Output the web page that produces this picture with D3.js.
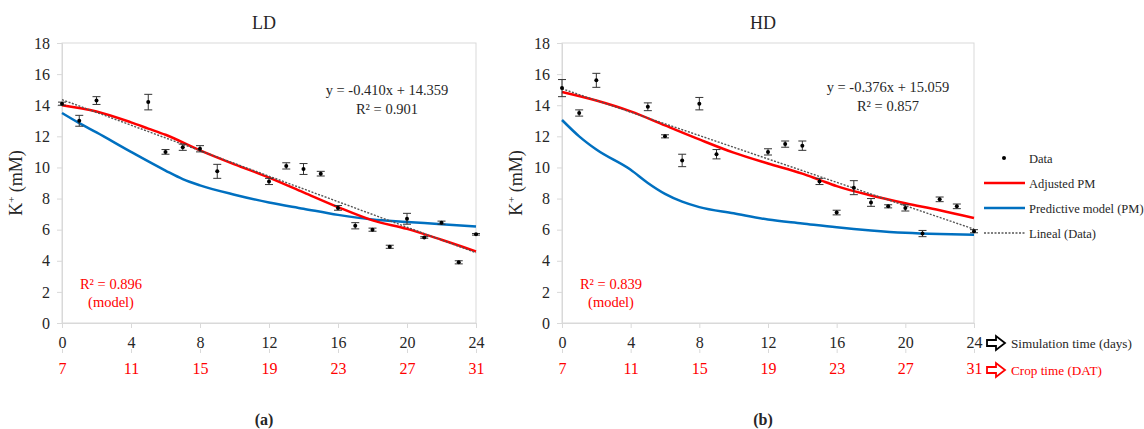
<!DOCTYPE html>
<html>
<head>
<meta charset="utf-8">
<script src="https://cdn.jsdelivr.net/npm/d3@7"></script>
<style>
    body { margin: 0; background: #fff; }
</style>
</head>
<body>
<div id="chart"></div>
<script>
// sampling days of the measured data (simulation time)
const sampleDays = [0, 1, 2, 5, 6, 7, 8, 9, 12, 13, 14, 15, 16, 17, 18, 19, 20, 21, 22, 23, 24];

// LD measured K+ (mean and error)
const ldMean = [14.1, 13.0, 14.3, 14.2, 11.0, 11.3, 11.2, 9.75, 9.1, 10.1, 9.9, 9.6, 7.4, 6.25, 6.0, 4.9, 6.7, 5.5, 6.45, 3.9, 5.7];
const ldErr = [0.1, 0.35, 0.25, 0.5, 0.15, 0.2, 0.2, 0.45, 0.2, 0.2, 0.35, 0.15, 0.15, 0.2, 0.1, 0.1, 0.35, 0.05, 0.1, 0.1, 0.05];

// HD measured K+ (mean and error)
const hdMean = [15.1, 13.5, 15.6, 13.9, 12.0, 10.45, 14.1, 10.85, 11.0, 11.5, 11.4, 9.1, 7.1, 8.7, 7.75, 7.5, 7.4, 5.75, 7.95, 7.5, 5.9];
const hdErr = [0.55, 0.2, 0.45, 0.25, 0.1, 0.4, 0.4, 0.3, 0.2, 0.2, 0.3, 0.2, 0.15, 0.45, 0.25, 0.1, 0.2, 0.2, 0.15, 0.15, 0.1];

// model curves
const ldAdjDays = [0, 2, 4, 5, 6, 8, 10, 12, 14, 16, 18, 20, 22, 24];
const ldAdj = [14.0, 13.6, 12.9, 12.5, 12.1, 11.1, 10.2, 9.35, 8.4, 7.45, 6.6, 6.05, 5.35, 4.6];
const ldPredDays = [0, 1, 2, 4, 6, 7, 8, 10, 12, 14, 16, 18, 20, 22, 24];
const ldPred = [13.5, 12.85, 12.25, 11.0, 9.8, 9.25, 8.85, 8.25, 7.75, 7.35, 6.95, 6.65, 6.5, 6.35, 6.2];

const hdAdjDays = [0, 2, 4, 6, 8, 10, 12, 14, 15, 16, 18, 20, 22, 24];
const hdAdj = [14.85, 14.3, 13.6, 12.7, 11.8, 10.95, 10.25, 9.6, 9.2, 8.8, 8.2, 7.7, 7.25, 6.75];
const hdPredDays = [0, 1, 2, 4, 5, 6, 7, 8, 10, 12, 14, 16, 18, 20, 22, 24];
const hdPred = [13.05, 12.0, 11.15, 9.85, 9.0, 8.3, 7.8, 7.45, 7.05, 6.65, 6.4, 6.15, 5.95, 5.8, 5.72, 5.68];

// linear trend of the data (slope, intercept) and R²
const trendSlope = [-0.410, -0.376];
const trendIntercept = [14.359, 15.059];
const trendR2 = ["0.901", "0.857"];
const modelR2 = ["0.896", "0.839"];

// axes
const simTicks = [0, 4, 8, 12, 16, 20, 24];
const cropTicks = [7, 11, 15, 19, 23, 27, 31];
const yTicks = [0, 2, 4, 6, 8, 10, 12, 14, 16, 18];

const panelTitles = ["LD", "HD"];
const panelLetters = ["(a)", "(b)"];

const FONT = "'Liberation Serif', 'Times New Roman', serif";
const RED = "#ff0000";
const BLUE = "#0070c0";
const GRID = "#d9d9d9";
const TEXT = "#262626";

const svg = d3.select("#chart").append("svg")
    .attr("width", 1144)
    .attr("height", 429)
    .attr("font-family", FONT);

const panels = [
    { left: 62, right: 476, mean: ldMean, err: ldErr, adjDays: ldAdjDays, adj: ldAdj, predDays: ldPredDays, pred: ldPred },
    { left: 562, right: 974, mean: hdMean, err: hdErr, adjDays: hdAdjDays, adj: hdAdj, predDays: hdPredDays, pred: hdPred }
];
const plotTop = 43, plotBottom = 323;

function styleAxis(ax, color) {
    ax.attr("font-family", FONT);
    ax.select(".domain").attr("stroke", GRID);
    ax.selectAll(".tick line").attr("stroke", GRID);
    ax.selectAll("text").attr("font-size", 16).attr("fill", color);
}

panels.forEach((p, i) => {
    const x = d3.scaleLinear().domain([0, 24]).range([p.left, p.right]);
    const y = d3.scaleLinear().domain([0, 18]).range([plotBottom, plotTop]);
    const g = svg.append("g");
    const mid = (p.left + p.right) / 2;

    // plot area frame
    g.append("rect")
        .attr("x", p.left).attr("y", plotTop)
        .attr("width", p.right - p.left).attr("height", plotBottom - plotTop)
        .attr("fill", "none").attr("stroke", GRID);

    // y axis
    const ya = g.append("g")
        .attr("transform", `translate(${p.left},0)`)
        .call(d3.axisLeft(y).tickValues(yTicks).tickSize(5).tickPadding(7));
    styleAxis(ya, TEXT);

    // x axis (simulation time)
    const xa = g.append("g")
        .attr("transform", `translate(0,${plotBottom})`)
        .call(d3.axisBottom(x).tickValues(simTicks).tickSize(5).tickPadding(9));
    styleAxis(xa, TEXT);

    // second x axis (crop time)
    const xb = g.append("g")
        .attr("transform", `translate(0,${plotBottom + 26})`)
        .call(d3.axisBottom(x).tickValues(simTicks).tickSize(4).tickPadding(10)
            .tickFormat((d, k) => cropTicks[k]));
    styleAxis(xb, RED);
    xb.select(".domain").remove();

    // titles
    g.append("text")
        .attr("x", mid - 5).attr("y", 29)
        .attr("text-anchor", "middle")
        .attr("font-size", 18).attr("fill", TEXT)
        .text(panelTitles[i]);

    g.append("text")
        .attr("x", mid - 5).attr("y", 425)
        .attr("text-anchor", "middle")
        .attr("font-size", 16).attr("font-weight", "bold").attr("fill", TEXT)
        .text(panelLetters[i]);

    const yt = g.append("text")
        .attr("transform", `translate(${p.left - 40},${183}) rotate(-90)`)
        .attr("text-anchor", "middle")
        .attr("font-size", 18).attr("fill", TEXT);
    yt.append("tspan").text("K");
    yt.append("tspan").attr("font-size", 11).attr("dy", -7).text("+");
    yt.append("tspan").attr("dy", 7).text(" (mM)");

    // model lines
    const line = d3.line().x(d => x(d[0])).y(d => y(d[1])).curve(d3.curveMonotoneX);
    g.append("path")
        .datum(p.predDays.map((d, k) => [d, p.pred[k]]))
        .attr("d", line)
        .attr("fill", "none").attr("stroke", BLUE).attr("stroke-width", 2.5);
    g.append("path")
        .datum(p.adjDays.map((d, k) => [d, p.adj[k]]))
        .attr("d", line)
        .attr("fill", "none").attr("stroke", RED).attr("stroke-width", 2.5);

    // linear trend
    g.append("line")
        .attr("x1", x(0)).attr("y1", y(trendIntercept[i]))
        .attr("x2", x(24)).attr("y2", y(trendIntercept[i] + trendSlope[i] * 24))
        .attr("stroke", "#555").attr("stroke-width", 1.4)
        .attr("stroke-dasharray", "2,1.5");

    // data with error bars
    const pts = sampleDays.map((d, k) => ({ d: d, v: p.mean[k], e: p.err[k] }));
    const eb = g.selectAll(".eb").data(pts).enter().append("g").attr("class", "eb");
    eb.append("line")
        .attr("x1", d => x(d.d)).attr("x2", d => x(d.d))
        .attr("y1", d => y(d.v - d.e)).attr("y2", d => y(d.v + d.e))
        .attr("stroke", "#333").attr("stroke-width", 1);
    [-1, 1].forEach(s => {
        eb.append("line")
            .attr("x1", d => x(d.d) - 4).attr("x2", d => x(d.d) + 4)
            .attr("y1", d => y(d.v + s * d.e)).attr("y2", d => y(d.v + s * d.e))
            .attr("stroke", "#333").attr("stroke-width", 1);
    });
    eb.append("circle")
        .attr("cx", d => x(d.d)).attr("cy", d => y(d.v))
        .attr("r", 2).attr("fill", "#000");

    // trend equation
    const eqX = p.left + (i === 0 ? 325 : 326);
    g.append("text")
        .attr("x", eqX).attr("y", 95 - i * 3)
        .attr("text-anchor", "middle").attr("font-size", 14.5).attr("fill", TEXT)
        .text(`y = ${trendSlope[i].toFixed(3)}x + ${trendIntercept[i].toFixed(3)}`);
    g.append("text")
        .attr("x", eqX).attr("y", 114 - i * 3)
        .attr("text-anchor", "middle").attr("font-size", 14.5).attr("fill", TEXT)
        .text(`R² = ${trendR2[i]}`);

    // model R²
    g.append("text")
        .attr("x", p.left + 49).attr("y", 289)
        .attr("text-anchor", "middle").attr("font-size", 14.5).attr("fill", RED)
        .text(`R² = ${modelR2[i]}`);
    g.append("text")
        .attr("x", p.left + 49).attr("y", 307)
        .attr("text-anchor", "middle").attr("font-size", 14.5).attr("fill", RED)
        .text("(model)");
});

// legend
const legendItems = [
    { label: "Data", type: "dot" },
    { label: "Adjusted PM", type: "line", color: RED },
    { label: "Predictive model (PM)", type: "line", color: BLUE },
    { label: "Lineal (Data)", type: "dash", color: "#555" }
];
const lg = svg.selectAll(".legend").data(legendItems).enter().append("g")
    .attr("class", "legend")
    .attr("transform", (d, k) => `translate(984,${158 + k * 25})`);
lg.filter(d => d.type === "dot").append("circle")
    .attr("cx", 20).attr("cy", 0).attr("r", 2).attr("fill", "#000");
lg.filter(d => d.type !== "dot").append("line")
    .attr("x1", 0).attr("x2", 41).attr("y1", 0).attr("y2", 0)
    .attr("stroke", d => d.color)
    .attr("stroke-width", d => d.type === "line" ? 2.5 : 1.4)
    .attr("stroke-dasharray", d => d.type === "dash" ? "2,1.5" : null);
lg.append("text")
    .attr("x", 45).attr("y", 4.5)
    .attr("font-size", 12.5).attr("fill", TEXT)
    .text(d => d.label);

// time axis captions with hollow arrows
const captions = [
    { label: "Simulation time (days)", color: TEXT, y: 343 },
    { label: "Crop time (DAT)", color: RED, y: 370 }
];
const arrow = "M0,-3 L9,-3 L9,-7 L18,0 L9,7 L9,3 L0,3 Z";
captions.forEach(c => {
    svg.append("path")
        .attr("d", arrow)
        .attr("transform", `translate(987,${c.y})`)
        .attr("fill", "none").attr("stroke", c.color === TEXT ? "#000" : RED).attr("stroke-width", 1.8)
        .attr("stroke-linejoin", "miter");
    svg.append("text")
        .attr("x", 1011).attr("y", c.y + 5)
        .attr("font-size", 13.2).attr("fill", c.color)
        .text(c.label);
});
</script>
</body>
</html>
